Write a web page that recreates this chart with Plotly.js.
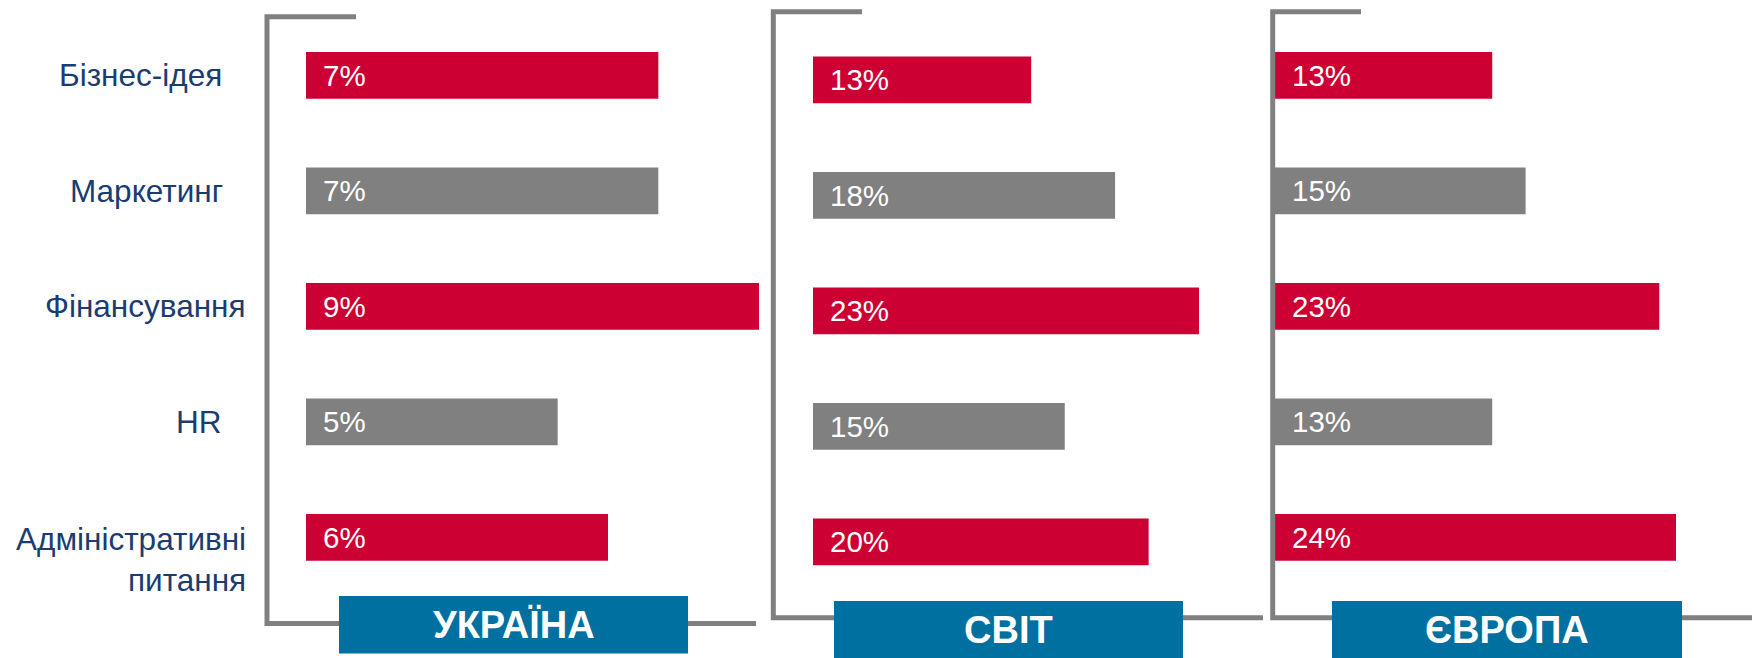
<!DOCTYPE html>
<html>
<head>
<meta charset="utf-8">
<script src="https://cdn.plot.ly/plotly-3.0.1.min.js"></script>
<style>
  html, body { margin: 0; padding: 0; background: #ffffff; }
  #chart { width: 1752px; height: 658px; }
</style>
</head>
<body>
<div id="chart"></div>
<script>
// ---- data ----
const categories = ["Бізнес-ідея", "Маркетинг", "Фінансування", "HR", "Адміністративні<br>питання"];
const panelNames = ["УКРАЇНА", "СВІТ", "ЄВРОПА"];
const ukraineValues = [7, 7, 9, 5, 6];
const worldValues = [13, 18, 23, 15, 20];
const europeValues = [13, 15, 23, 13, 24];

// ---- style ----
const W = 1752, H = 658;
const RED = "#CC0033", GREY = "#808080", BLUE = "#0070A0", NAVY = "#1A3C70", LINE = "#808080";
const barColors = [RED, GREY, RED, GREY, RED];
const FONT = "Arial, 'Liberation Sans', sans-serif";
const fx = px => px / W;
const fy = py => 1 - py / H;

// panel geometry (pixels)
const panels = [
  { values: ukraineValues, x0: 306, x1: 759, xmax: 9,  yTop: 17.6, yBot: 595.1,
    bracket: { top: 16.7, topEnd: 356, vx: 267, bottom: 623.5, bottomEnd: 756 },
    box: { x0: 339, x1: 688, y0: 596, y1: 653.5 } },
  { values: worldValues,   x0: 813, x1: 1199, xmax: 23, yTop: 22.1, yBot: 599.6,
    bracket: { top: 11.7, topEnd: 862, vx: 773.3, bottom: 617.7, bottomEnd: 1263 },
    box: { x0: 834, x1: 1183, y0: 601, y1: 658 } },
  { values: europeValues,  x0: 1275, x1: 1676, xmax: 24, yTop: 17.6, yBot: 595.1,
    bracket: { top: 11.7, topEnd: 1361, vx: 1272.7, bottom: 617.7, bottomEnd: 1752 },
    box: { x0: 1332, x1: 1682, y0: 601, y1: 658 } }
];

const labelShift = { "Бізнес-ідея": -24, "Маркетинг": -23, "HR": -24 };

const data = [];
const layout = {
  width: W, height: H,
  margin: { l: 0, r: 0, t: 0, b: 0, pad: 0 },
  paper_bgcolor: "#ffffff", plot_bgcolor: "rgba(0,0,0,0)",
  showlegend: false, hovermode: false,
  font: { family: FONT },
  shapes: [], annotations: []
};

panels.forEach((p, i) => {
  const sfx = i === 0 ? "" : String(i + 1);
  data.push({
    type: "bar", orientation: "h",
    x: p.values, y: categories,
    xaxis: "x" + sfx, yaxis: "y" + sfx,
    width: 0.405,
    marker: { color: barColors, line: { width: 0 } },
    hoverinfo: "skip"
  });
  layout["xaxis" + sfx] = {
    domain: [fx(p.x0), fx(p.x1)], range: [0, p.xmax],
    visible: false, fixedrange: true, anchor: "y" + sfx
  };
  layout["yaxis" + sfx] = {
    domain: [fy(p.yBot), fy(p.yTop)], type: "category",
    categoryorder: "array", categoryarray: categories,
    range: [4.5, -0.5], visible: false, fixedrange: true, anchor: "x" + sfx
  };

  // value labels
  p.values.forEach((v, k) => {
    layout.annotations.push({
      xref: "x" + sfx, yref: "y" + sfx, x: 0, y: categories[k],
      xanchor: "left", yanchor: "middle", xshift: 15, yshift: 0,
      text: v + "%", showarrow: false,
      font: { family: FONT, size: 29.5, color: "#ffffff" }
    });
  });

  // bracket
  const b = p.bracket;
  const path = `M ${fx(b.topEnd)},${fy(b.top)} L ${fx(b.vx)},${fy(b.top)} L ${fx(b.vx)},${fy(b.bottom)} L ${fx(b.bottomEnd)},${fy(b.bottom)}`;
  layout.shapes.push({
    type: "path", xref: "paper", yref: "paper", path: path,
    line: { color: LINE, width: 5 }, fillcolor: "rgba(0,0,0,0)", layer: "above"
  });
});

// panel name boxes (after lines so they cover them)
panels.forEach((p, i) => {
  const bx = p.box;
  layout.shapes.push({
    type: "rect", xref: "paper", yref: "paper",
    x0: fx(bx.x0), x1: fx(bx.x1), y0: fy(bx.y1), y1: fy(bx.y0),
    fillcolor: BLUE, line: { width: 0 }, layer: "above"
  });
  layout.annotations.push({
    xref: "paper", yref: "paper",
    x: fx((bx.x0 + bx.x1) / 2), y: fy((bx.y0 + bx.y1) / 2),
    xanchor: "center", yanchor: "middle",
    text: panelNames[i], showarrow: false,
    font: { family: FONT, size: 38, color: "#ffffff", weight: "bold" }
  });
});

// category labels on the left of the first panel
categories.forEach((c, k) => {
  const multi = c.indexOf("<br>") >= 0;
  layout.annotations.push({
    xref: "paper", yref: "y", x: fx(248), y: c,
    xanchor: "right", yanchor: "middle", align: "right",
    xshift: labelShift[c] || 0, yshift: multi ? -22 : 0,
    text: c, showarrow: false,
    font: { family: FONT, size: 31.5, color: NAVY }
  });
});

Plotly.newPlot("chart", data, layout, { displayModeBar: false, staticPlot: true });
</script>
</body>
</html>
